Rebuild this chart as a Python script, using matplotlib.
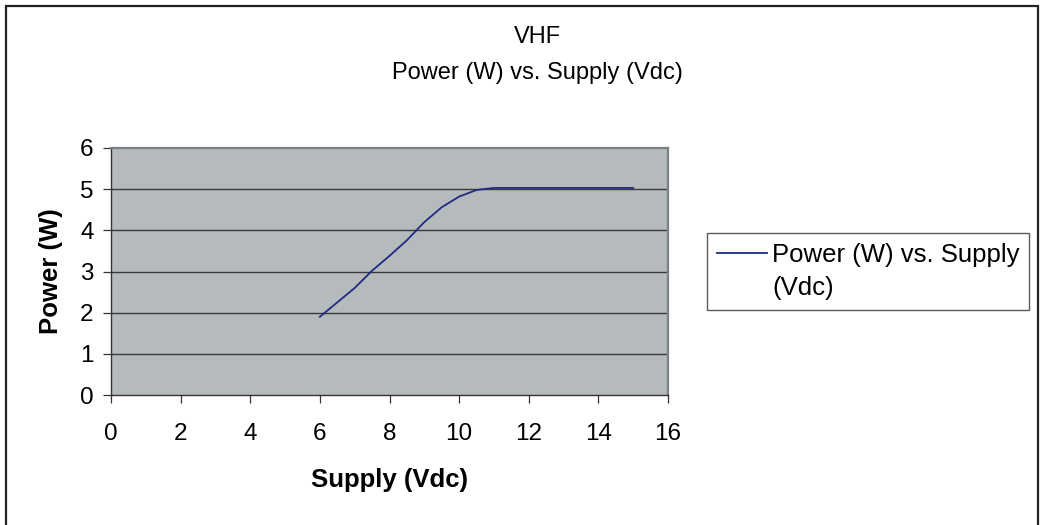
import matplotlib
matplotlib.use("Agg")
import matplotlib.pyplot as plt
from matplotlib.lines import Line2D
from matplotlib.patches import Rectangle

supply = [6, 6.5, 7, 7.5, 8, 8.5, 9, 9.5, 10, 10.5, 11, 11.5, 12, 12.5, 13, 13.5, 14, 14.5, 15]
power = [1.9, 2.25, 2.6, 3.02, 3.38, 3.76, 4.2, 4.56, 4.82, 4.98, 5.03, 5.03, 5.03, 5.03, 5.03, 5.03, 5.03, 5.03, 5.03]
xticks = [0, 2, 4, 6, 8, 10, 12, 14, 16]
yticks = [0, 1, 2, 3, 4, 5, 6]
series_label = "Power (W) vs. Supply"
series_label2 = "(Vdc)"

plt.rcParams['font.family'] = ['Liberation Sans', 'DejaVu Sans']

W, H = 1041, 525
fig = plt.figure(figsize=(W / 100, H / 100), dpi=100)
ax = fig.add_axes([111 / W, 1 - 395 / H, (668 - 111) / W, (395 - 148) / H])
ax.set_facecolor('#b5babd')

line, = ax.plot(supply, power, color='#1f2a80', lw=1.3)
ax.set_xlim(0, 16)
ax.set_ylim(0, 6)
ax.set_xticks(xticks)
ax.set_yticks(yticks)
ax.tick_params(direction='out', length=5.5, width=0.9, color='#333333',
               labelsize=17.5, labelcolor='black')
ax.tick_params(axis='x', pad=14.5)
ax.tick_params(axis='y', pad=7)
for v in yticks[1:-1]:
    ax.axhline(v, color='#3a3a3a', lw=1.0, zorder=1)
for side in ['left', 'bottom']:
    ax.spines[side].set_color('#333333')
    ax.spines[side].set_linewidth(1.0)
for side in ['top', 'right']:
    ax.spines[side].set_color('#7b8083')
    ax.spines[side].set_linewidth(1.6)

ax.set_xlabel("Supply (Vdc)", fontsize=18.5, fontweight='bold', labelpad=17)
ax.set_ylabel("Power (W)", fontsize=18.5, fontweight='bold', labelpad=12)

fig.text(537 / W, 1 - 37 / H, "VHF", ha='center', va='center', fontsize=17)
fig.text(537 / W, 1 - 73 / H, "Power (W) vs. Supply (Vdc)", ha='center', va='center', fontsize=17)

blank = Line2D([], [], color='none')
leg = fig.legend([line, blank], [series_label, series_label2],
                 loc='upper left', bbox_to_anchor=(707 / W, 1 - 233 / H),
                 fontsize=18.5, frameon=True, fancybox=False, handlelength=1.95,
                 handletextpad=0.2, labelspacing=0.35, borderpad=0.38,
                 borderaxespad=0)
leg.get_frame().set_edgecolor('#333333')
leg.get_frame().set_linewidth(1.0)

border = Rectangle((6 / W, -0.05), (1038 - 6) / W, 1 - 6 / H + 0.05,
                   transform=fig.transFigure, fill=False, edgecolor='#222222',
                   lw=1.6, clip_on=False)
fig.patches.append(border)

fig.savefig("out.png", dpi=100)
